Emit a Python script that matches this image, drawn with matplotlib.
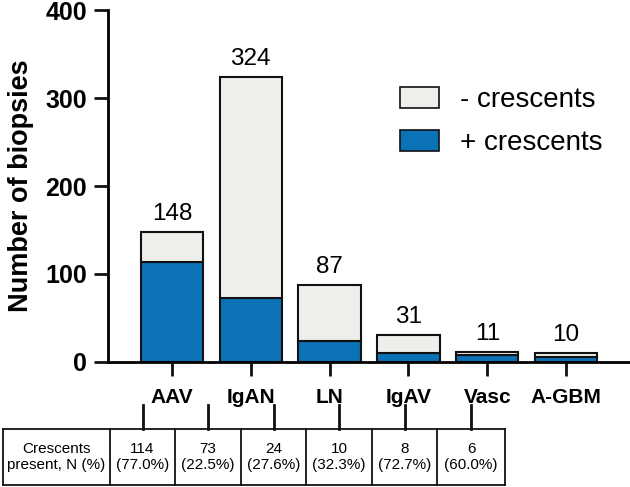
import matplotlib.pyplot as plt
from matplotlib.patches import Patch
from matplotlib.lines import Line2D

plt.rcParams['font.family'] = ['Liberation Sans', 'DejaVu Sans']

# data
groups = ['AAV', 'IgAN', 'LN', 'IgAV', 'Vasc', 'A-GBM']
totals = [148, 324, 87, 31, 11, 10]
with_cres = [114, 73, 24, 10, 8, 6]
cell_text = ['114\n(77.0%)', '73\n(22.5%)', '24\n(27.6%)', '10\n(32.3%)',
             '8\n(72.7%)', '6\n(60.0%)']
row_label = 'Crescents\npresent, N (%)'

blue = '#0a72b5'
grey = '#eeeeea'

fig = plt.figure(figsize=(6.3, 4.87), dpi=100)
ax = fig.add_axes([0.1714, 0.2567, 0.8286, 0.7227])

x = list(range(len(groups)))
without = [t - w for t, w in zip(totals, with_cres)]
ax.bar(x, with_cres, width=0.79, color=blue, edgecolor='#111111', linewidth=1.5,
       label='+ crescents', zorder=2)
ax.bar(x, without, width=0.79, bottom=with_cres, color=grey, edgecolor='#111111',
       linewidth=1.5, label='- crescents', zorder=2)

for xi, t in zip(x, totals):
    ax.annotate(str(t), (xi, t), xytext=(0, 5), textcoords='offset points',
                ha='center', va='bottom', fontsize=17.5)

ax.set_xlim(-0.81, 5.81)
ax.set_ylim(0, 400)
ax.set_yticks([0, 100, 200, 300, 400])
ax.set_xticks(x)
ax.set_xticklabels(groups, fontweight='bold', fontsize=15)
for lab in ax.get_yticklabels():
    lab.set_fontweight('bold')
    lab.set_fontsize(18)
ax.set_ylabel('Number of biopsies', fontweight='bold', fontsize=19.5, labelpad=8)
ax.tick_params(axis='both', length=10, width=2, color='#111111', pad=5)
ax.tick_params(axis='x', pad=9)
ax.spines['top'].set_visible(False)
ax.spines['right'].set_visible(False)
ax.spines['left'].set_linewidth(2)
ax.spines['bottom'].set_linewidth(2)

handles = [Patch(facecolor=grey, edgecolor='#111111', linewidth=1.2),
           Patch(facecolor=blue, edgecolor='#111111', linewidth=1.2)]
ax.legend(handles, ['- crescents', '+ crescents'], loc='upper left',
          bbox_to_anchor=(400 / 630, 1 - 87 / 487), bbox_transform=fig.transFigure,
          frameon=False, fontsize=20, borderpad=0, borderaxespad=0,
          handlelength=1.4, handleheight=0.8, handletextpad=0.75, labelspacing=0.6)

# table below the chart (figure pixel coords)
W, H = 630, 487
col_edges = [3, 110, 175, 241, 306, 372, 437, 505]
top, bot = 429, 485


def fx(px):
    return px / W


def fy(py):
    return 1 - py / H


lw = 1.3
for xe in col_edges:
    fig.add_artist(Line2D([fx(xe), fx(xe)], [fy(top), fy(bot)], color='#111111', lw=lw))
fig.add_artist(Line2D([fx(col_edges[0]), fx(col_edges[-1])], [fy(top), fy(top)],
                      color='#111111', lw=lw))
fig.add_artist(Line2D([fx(col_edges[0]), fx(col_edges[-1])], [fy(bot), fy(bot)],
                      color='#111111', lw=lw))

fig.text(fx((col_edges[0] + col_edges[1]) / 2), fy((top + bot) / 2), row_label,
         ha='center', va='center', fontsize=11, linespacing=1.2)
for i, txt in enumerate(cell_text):
    cx = (col_edges[i + 1] + col_edges[i + 2]) / 2
    fig.text(fx(cx), fy((top + bot) / 2), txt, ha='center', va='center',
             fontsize=11, linespacing=1.2)
    fig.add_artist(Line2D([fx(cx), fx(cx)], [fy(405), fy(top)], color='#111111', lw=2))

fig.savefig('out.png', dpi=100)
